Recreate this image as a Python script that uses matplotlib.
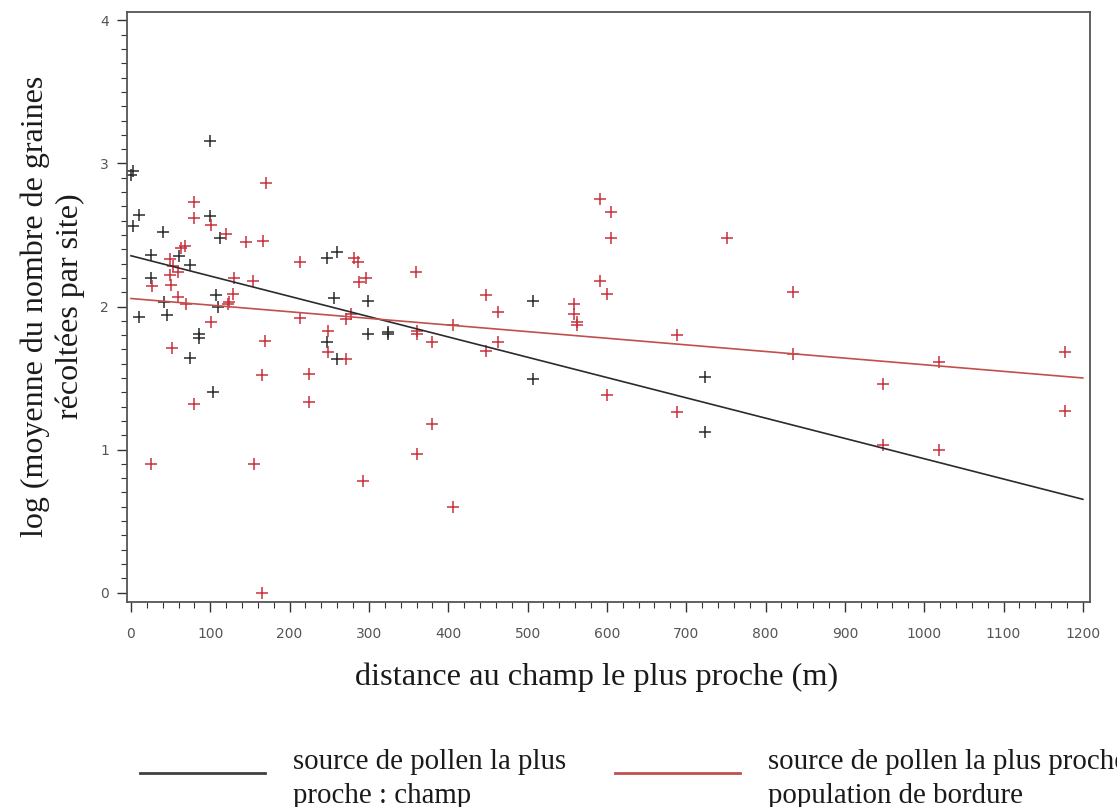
import matplotlib.pyplot as plt
from matplotlib.lines import Line2D
from matplotlib.ticker import MultipleLocator
import numpy as np

# sites dont la source de pollen la plus proche est un champ
dist_champ = [0, 3, 10, 2, 41, 100, 100, 112, 25, 61, 75, 25, 247, 260, 107, 42, 256,
              299, 110, 10, 45, 86, 86, 74, 103, 247, 260, 299, 324, 324, 507, 507, 724, 724]
graines_champ = [2.92, 2.95, 2.64, 2.56, 2.52, 3.16, 2.63, 2.48, 2.36, 2.35, 2.29, 2.20, 2.34,
                 2.38, 2.08, 2.03, 2.06, 2.04, 2.00, 1.93, 1.94, 1.81, 1.78, 1.64, 1.40, 1.75,
                 1.63, 1.81, 1.82, 1.81, 2.04, 1.49, 1.51, 1.12]

# sites dont la source la plus proche est une population de bordure
dist_bordure = [170, 79, 80, 101, 120, 68, 63, 145, 166, 49, 49, 53, 59, 51, 26, 130, 154,
                213, 281, 286, 296, 287, 359, 128, 124, 59, 69, 122, 278, 213, 101, 52, 79,
                25, 155, 165, 169, 165, 224, 224, 248, 248, 271, 271, 293, 360, 360, 380,
                380, 360, 406, 406, 447, 463, 447, 463, 591, 605, 605, 751, 591, 600, 559,
                559, 562, 562, 688, 600, 688, 835, 835, 1177, 1019, 948, 1177, 948, 1019]
graines_bordure = [2.865, 2.73, 2.62, 2.57, 2.51, 2.42, 2.41, 2.45, 2.46, 2.33, 2.22, 2.28,
                   2.24, 2.15, 2.14, 2.20, 2.18, 2.31, 2.34, 2.31, 2.20, 2.17, 2.24, 2.09,
                   2.03, 2.07, 2.02, 2.02, 1.95, 1.92, 1.89, 1.71, 1.32, 0.90, 0.90, 0.0,
                   1.76, 1.52, 1.53, 1.33, 1.83, 1.68, 1.63, 1.91, 0.78, 1.83, 1.81, 1.75,
                   1.18, 0.97, 0.60, 1.87, 2.08, 1.96, 1.69, 1.75, 2.75, 2.66, 2.48, 2.48,
                   2.18, 2.09, 2.02, 1.95, 1.89, 1.87, 1.80, 1.38, 1.26, 2.10, 1.67, 1.68,
                   1.61, 1.46, 1.27, 1.03, 1.00]

# droites de regression (ordonnee a l'origine, pente)
reg_champ = (2.355, -0.001419)
reg_bordure = (2.056, -0.000463)

x_ticks = [0, 100, 200, 300, 400, 500, 600, 700, 800, 900, 1000, 1100, 1200]
y_ticks = [0, 1, 2, 3, 4]

c_noir = '#2b2b2b'
c_rouge = '#c8323c'
serif = 'Liberation Serif'

fig = plt.figure(figsize=(11.17, 8.07), dpi=100)
ax = fig.add_axes([0.1137, 0.254, 0.8621, 0.7311])

ax.plot(dist_champ, graines_champ, '+', color=c_noir, markersize=9, markeredgewidth=1.1)
ax.plot(dist_bordure, graines_bordure, '+', color=c_rouge, markersize=9, markeredgewidth=1.1)

xr = np.array([0, 1200])
ax.plot(xr, reg_champ[0] + reg_champ[1] * xr, color=c_noir, lw=1.2)
ax.plot(xr, reg_bordure[0] + reg_bordure[1] * xr, color='#c0504d', lw=1.2)

ax.set_xlim(-5, 1209)
ax.set_ylim(-0.066, 4.059)
ax.set_xticks(x_ticks)
ax.set_yticks(y_ticks)
ax.xaxis.set_minor_locator(MultipleLocator(20))
ax.yaxis.set_minor_locator(MultipleLocator(0.1))
ax.tick_params(axis='both', which='major', length=7, width=1, color='#333333',
               labelsize=10, labelcolor='#555555')
ax.tick_params(axis='both', which='minor', length=4, width=0.8, color='#333333')
ax.tick_params(axis='x', pad=11)
ax.tick_params(axis='y', pad=6)
for sp in ax.spines.values():
    sp.set_color('#555555')
    sp.set_linewidth(1.3)

fig.text(0.5345, 0.161, 'distance au champ le plus proche (m)', family=serif,
         fontsize=23.3, ha='center', va='center', color='#1a1a1a')
fig.text(0.0475, 0.62, 'log (moyenne du nombre de graines\nrécoltées par site)',
         family=serif, fontsize=23, rotation=90, ha='center', va='center',
         multialignment='center', linespacing=1.25, color='#1a1a1a')

# legende en bas de la figure (le second texte deborde a droite)
fig.add_artist(Line2D([0.1253, 0.2372], [0.0421, 0.0421], color='#404040', lw=2))
fig.text(0.2623, 0.0345, 'source de pollen la plus\nproche : champ', family=serif,
         fontsize=20.8, ha='left', va='center', linespacing=1.4, color='#1a1a1a')
fig.add_artist(Line2D([0.5506, 0.6625], [0.0421, 0.0421], color='#c0504d', lw=2))
fig.text(0.6876, 0.0345, 'source de pollen la plus proche :\npopulation de bordure',
         family=serif, fontsize=20.8, ha='left', va='center', linespacing=1.4,
         color='#1a1a1a')

fig.savefig('out.png', dpi=100)
